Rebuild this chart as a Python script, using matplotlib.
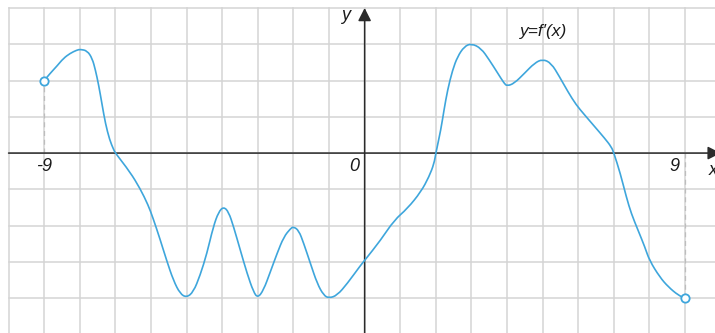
import matplotlib.pyplot as plt
from matplotlib.path import Path
from matplotlib.patches import PathPatch

x_pts = [-9.0, -8.83, -8.64, -8.46, -8.27, -8.08, -7.98, -7.79, -7.65, -7.56, -7.47,
         -7.37, -7.28, -7.16, -7.05, -7.0,
         -6.59, -6.31, -6.08, -5.94, -5.75, -5.56, -5.37, -5.18, -5.0,
         -4.81, -4.62, -4.43, -4.25, -4.1, -3.96, -3.82, -3.68, -3.49, -3.30, -3.12, -3.0,
         -2.84, -2.65, -2.46, -2.27, -2.08, -2.0, -1.85, -1.71, -1.52, -1.33, -1.15, -1.0,
         -0.77, -0.49, -0.11, 0.0, 0.45, 0.83, 1.2, 1.58, 1.81, 1.95, 2.0,
         2.14, 2.23, 2.33, 2.47, 2.61, 2.8, 3.0, 3.27, 3.5, 3.74, 3.92, 4.0,
         4.2, 4.49, 4.77, 5.0, 5.24, 5.47, 5.71, 5.94, 6.18, 6.46, 6.74, 6.93, 7.0,
         7.18, 7.35, 7.49, 7.68, 7.87, 8.0, 8.29, 8.53, 8.81, 9.0]
y_pts = [2.0, 2.20, 2.40, 2.61, 2.75, 2.84, 2.86, 2.82, 2.61, 2.29, 1.88,
         1.32, 0.82, 0.36, 0.10, 0.0,
         -0.52, -0.97, -1.43, -1.80, -2.36, -2.96, -3.51, -3.88, -3.98,
         -3.83, -3.37, -2.77, -2.03, -1.62, -1.48, -1.62, -2.03, -2.68, -3.32, -3.83, -3.99,
         -3.78, -3.28, -2.77, -2.31, -2.08, -2.03, -2.13, -2.49, -3.05, -3.6, -3.92, -4.0,
         -3.92, -3.6, -3.09, -2.96, -2.4, -1.85, -1.53, -1.07, -0.65, -0.29, 0.0,
         0.64, 1.19, 1.74, 2.29, 2.66, 2.94, 3.02, 2.89, 2.57, 2.2, 1.92, 1.85,
         1.92, 2.2, 2.48, 2.59, 2.48, 2.11, 1.69, 1.33, 1.05, 0.73, 0.41, 0.17, 0.0,
         -0.56, -1.21, -1.67, -2.13, -2.59, -2.96, -3.42, -3.69, -3.92, -4.0]

end_x = [x_pts[0], x_pts[-1]]
end_y = [y_pts[0], y_pts[-1]]

tick_x = [-9, 0, 9]
tick_labels = ["-9", "0", "9"]

blue = "#3ea6dc"
grid_c = "#d4d4d4"
axis_c = "#2b2b2b"

fig = plt.figure(figsize=(7.15, 3.33), dpi=100)
ax = fig.add_axes([0, 0, 1, 1])
ax.set_xlim(-10.24, 9.84)
ax.set_ylim(-4.96, 4.22)
ax.axis("off")

# grid
for gx in range(-10, 11):
    ax.plot([gx, gx], [-6, 4], color=grid_c, lw=1.1, zorder=1)
for gy in range(-5, 5):
    ax.plot([-10, 11], [gy, gy], color=grid_c, lw=1.1, zorder=1)

# axes with arrows
arr = dict(arrowstyle="-|>,head_length=0.65,head_width=0.33", color=axis_c,
           lw=1.1, mutation_scale=12, shrinkA=0, shrinkB=0)
ax.annotate("", xy=(10.0, 0), xytext=(-10.0, 0), arrowprops=arr, zorder=3,
            annotation_clip=False)
ax.annotate("", xy=(0, 4.0), xytext=(0, -5.2), arrowprops=arr, zorder=3,
            annotation_clip=False)

# dashed guides to the end points
ax.plot([end_x[0], end_x[0]], [0, end_y[0]], color="#bdbdbd", lw=0.9,
        ls=(0, (4, 3)), zorder=2)
ax.plot([end_x[1], end_x[1]], [0, end_y[1]], color="#bdbdbd", lw=0.9,
        ls=(0, (4, 3)), zorder=2)

# the curve: read points used as quadratic control points for a smooth stroke
pts = list(zip(x_pts, y_pts))
verts = [pts[0]]
codes = [Path.MOVETO]
for i in range(1, len(pts) - 1):
    mid = ((pts[i][0] + pts[i + 1][0]) / 2, (pts[i][1] + pts[i + 1][1]) / 2)
    verts += [pts[i], mid]
    codes += [Path.CURVE3, Path.CURVE3]
verts.append(pts[-1])
codes.append(Path.LINETO)
ax.add_patch(PathPatch(Path(verts, codes), fill=False, edgecolor=blue,
                       lw=1.2, zorder=4))
ax.plot(end_x, end_y, "o", ms=6, mfc="white", mec=blue, mew=1.3, zorder=5)

font = dict(family="Liberation Sans", style="italic", color="#1a1a1a")
for tx, tl in zip(tick_x, tick_labels):
    dx = -0.3 if tx >= 0 else 0.0
    ax.text(tx + dx, -0.38, tl, ha="center", va="center", fontsize=13, **font)
ax.text(-0.55, 3.8, "y", ha="center", va="center", fontsize=13, **font)
ax.text(9.78, -0.47, "x", ha="center", va="center", fontsize=13, **font)
ax.text(5.04, 3.35, "y=f\u2032(x)", ha="center", va="center", fontsize=12.5, **font)

fig.savefig("out.png", dpi=100)
